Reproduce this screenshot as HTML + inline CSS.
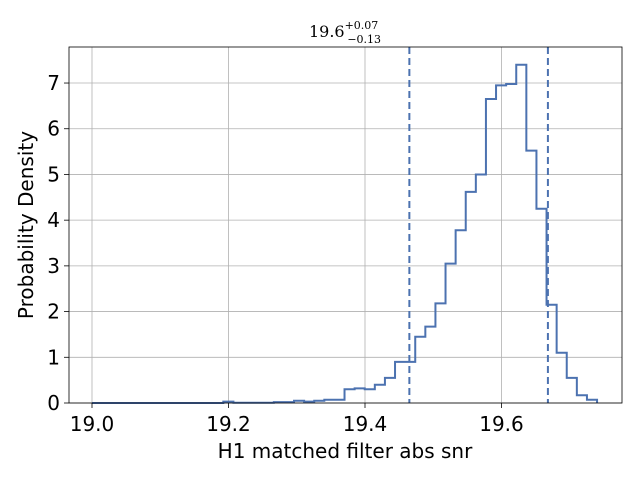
<!DOCTYPE html>
<html><head><meta charset="utf-8"><style>
body{margin:0;background:#fff}
svg text{font-family:"DejaVu Sans","Liberation Sans",sans-serif;fill:#000}
</style></head><body>
<svg width="640" height="480" xmlns="http://www.w3.org/2000/svg">
<g id="grid"></g>
<g id="hist"></g>
<g id="axes"></g>
<text x="345" y="37" text-anchor="middle" font-size="16" style="font-family:'DejaVu Serif','Liberation Serif',serif">19.6<tspan font-size="11" dy="-8">+0.07</tspan><tspan font-size="11" dx="-31" dy="14">−0.13</tspan></text>
<text x="345" y="458" text-anchor="middle" font-size="20">H1 matched filter abs snr</text>
<text transform="translate(33,225) rotate(-90)" text-anchor="middle" font-size="20">Probability Density</text>
</svg>
<script>
const binStart=19.0, binWidth=0.0148;
const densities=[0,0,0,0,0,0,0,0,0,0,0,0,0,0.03,0.005,0.005,0.005,0.005,0.02,0.02,0.05,0.03,0.05,0.07,0.07,0.3,0.32,0.3,0.4,0.55,0.9,0.9,1.45,1.67,2.18,3.05,3.78,4.62,5.0,6.65,6.95,6.98,7.4,5.52,4.25,2.15,1.1,0.55,0.17,0.07];
const xTicks=[19.0,19.2,19.4,19.6];
const xTickLabels=["19.0","19.2","19.4","19.6"];
const yTicks=[0,1,2,3,4,5,6,7];
const markers=[19.465,19.668];
const L=69,R=622,T=47,B=403;
const X=v=>92+(v-19.0)*682.5;
const Y=v=>403-v*45.71;
const ns="http://www.w3.org/2000/svg";
function mk(tag,attrs,parent){const e=document.createElementNS(ns,tag);for(const k in attrs)e.setAttribute(k,attrs[k]);parent.appendChild(e);return e;}
const grid=document.getElementById('grid'),axes=document.getElementById('axes'),hist=document.getElementById('hist');
xTicks.forEach((t,i)=>{
 const g=mk('line',{x1:X(t),x2:X(t),y1:T,y2:B,stroke:'#b0b0b0','stroke-width':0.8},grid);
 
 
 const tk=mk('line',{x1:X(t),x2:X(t),y1:B,y2:B+5,stroke:'#000','stroke-width':0.8},axes);
 
 
 const tx=mk('text',{x:X(t),y:B+28,'text-anchor':'middle','font-size':20},axes);
 tx.textContent=xTickLabels[i];
 
 
});
yTicks.forEach(t=>{
 const g=mk('line',{x1:L,x2:R,y1:Y(t),y2:Y(t),stroke:'#b0b0b0','stroke-width':0.8},grid);
 
 
 const tk=mk('line',{x1:L-5,x2:L,y1:Y(t),y2:Y(t),stroke:'#000','stroke-width':0.8},axes);
 
 
 const tx=mk('text',{x:L-9,y:Y(t)+7,'text-anchor':'end','font-size':20},axes);
 tx.textContent=String(t);
 
 
});
let d='M'+X(binStart)+','+Y(0);
densities.forEach((v,i)=>{const x0=X(binStart+i*binWidth),x1=X(binStart+(i+1)*binWidth);d+=' L'+x0+','+Y(v)+' L'+x1+','+Y(v);});
d+=' L'+X(binStart+densities.length*binWidth)+','+Y(0);
const p=mk('path',{d:d,fill:'none',stroke:'#4c72b0','stroke-width':2,'stroke-linejoin':'miter'},hist);


markers.forEach(m=>{
 const l=mk('line',{x1:X(m),x2:X(m),y1:T,y2:B,stroke:'#4c72b0','stroke-width':2,'stroke-dasharray':'7,4'},hist);
 
 
});
const fr=mk('rect',{x:L,y:T,width:R-L,height:B-T,fill:'none',stroke:'#000','stroke-width':0.8},axes);


</script>
</body></html>
